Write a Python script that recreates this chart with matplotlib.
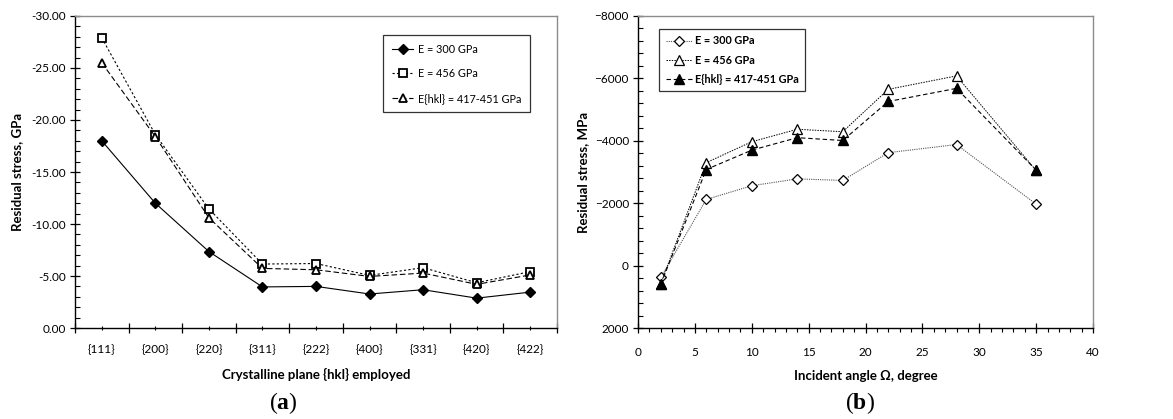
import numpy as np
import matplotlib
matplotlib.use('Agg')
import matplotlib.pyplot as plt
from matplotlib.ticker import MultipleLocator, FixedLocator, NullFormatter, FormatStrFormatter, FixedFormatter

plt.rcParams['font.family'] = ['Lato', 'DejaVu Sans']
plt.rcParams['mathtext.fontset'] = 'custom'
plt.rcParams['mathtext.bf'] = 'Liberation Serif:bold'
plt.rcParams['mathtext.rm'] = 'Liberation Serif'

# (a) residual stress per reflection
planes = ['{111}', '{200}', '{220}', '{311}', '{222}', '{400}', '{331}', '{420}', '{422}']
stress_e300 = [-18.0, -12.0, -7.35, -3.95, -4.0, -3.27, -3.68, -2.87, -3.45]
stress_e456 = [-27.9, -18.6, -11.45, -6.15, -6.2, -5.06, -5.8, -4.35, -5.42]
stress_ehkl = [-25.5, -18.4, -10.6, -5.73, -5.6, -4.96, -5.28, -4.2, -5.1]

# (b) residual stress vs incident angle
omega = [2, 6, 10, 14, 18, 22, 28, 35]
mpa_e300 = [380, -2120, -2560, -2780, -2730, -3620, -3880, -1970]
mpa_e456 = [580, -3300, -3970, -4370, -4290, -5650, -6080, -3050]
mpa_ehkl = [600, -3080, -3700, -4100, -4010, -5260, -5680, -3060]

fig = plt.figure(figsize=(11.73, 4.19), dpi=100)
ax1 = fig.add_axes([75/1173, 1-328/419, (557-75)/1173, (328-16)/419])
ax2 = fig.add_axes([638/1173, 1-328/419, (1093-638)/1173, (328-16)/419])

def frame(ax):
    for s in ['top', 'right']:
        ax.spines[s].set_color('#8c8c8c')
        ax.spines[s].set_linewidth(1.0)
    for s in ['left', 'bottom']:
        ax.spines[s].set_linewidth(1.0)
    ax.tick_params(which='major', direction='inout', length=7, width=0.9, labelsize=8.5, pad=3)
    ax.tick_params(which='minor', direction='in', length=3.5, width=0.8)
    ax.tick_params(top=False, right=False, which='both')

# ---- (a)
x = np.arange(len(planes))
ax1.plot(x, stress_e300, color='black', lw=0.8, ls='-', marker='D', ms=5,
         mfc='black', mec='black', label='E = 300 GPa')
ax1.plot(x, stress_e456, color='black', lw=0.8, ls=(0, (2, 2)), marker='s', ms=5.8,
         mfc='white', mec='black', mew=1.3, label='E = 456 GPa')
ax1.plot(x, stress_ehkl, color='black', lw=0.8, ls=(0, (5, 2.5)), marker='^', ms=6,
         mfc='white', mec='black', mew=1.3, label='E{hkl} = 417-451 GPa')
ax1.set_xlim(-0.5, len(planes) - 0.5)
ax1.set_ylim(0, -30)
ax1.yaxis.set_major_locator(MultipleLocator(5))
ax1.yaxis.set_minor_locator(MultipleLocator(1))
ax1.yaxis.set_major_formatter(FormatStrFormatter('%.2f'))
ax1.xaxis.set_major_locator(FixedLocator(np.arange(-0.5, len(planes), 1.0)))
ax1.xaxis.set_major_formatter(NullFormatter())
ax1.xaxis.set_minor_locator(FixedLocator(x))
ax1.xaxis.set_minor_formatter(FixedFormatter(planes))
frame(ax1)
ax1.tick_params(axis='x', which='minor', direction='inout', length=3, labelsize=8.5, pad=10)
ax1.set_xlabel('Crystalline plane {hkl} employed', fontsize=9.5, fontweight='bold', labelpad=9)
ax1.set_ylabel('Residual stress, GPa', fontsize=9.5, fontweight='bold', labelpad=6)
leg1 = ax1.legend(loc='upper left', bbox_to_anchor=(308/482, 1-19/312), fontsize=7.8,
                  frameon=True, fancybox=False, edgecolor='black', borderpad=0.8,
                  labelspacing=1.25, handlelength=2.0, handletextpad=0.4, borderaxespad=0.0)
leg1.get_frame().set_linewidth(0.9)

# ---- (b)
ax2.plot(omega, mpa_e300, color='#555555', lw=0.8, ls=(0, (1, 1)), marker='D', ms=5,
         mfc='white', mec='black', mew=0.9, label='E = 300 GPa')
ax2.plot(omega, mpa_e456, color='black', lw=0.7, ls=(0, (1.5, 1.2)), marker='^', ms=6.5,
         mfc='white', mec='black', mew=0.9, label='E = 456 GPa')
ax2.plot(omega, mpa_ehkl, color='black', lw=0.8, ls=(0, (4, 2.5)), marker='^', ms=6.5,
         mfc='black', mec='black', label='E{hkl} = 417-451 GPa')
ax2.set_xlim(0, 40)
ax2.set_ylim(2000, -8000)
ax2.xaxis.set_major_locator(MultipleLocator(5))
ax2.xaxis.set_minor_locator(MultipleLocator(1))
ax2.yaxis.set_major_locator(MultipleLocator(2000))
ax2.yaxis.set_minor_locator(MultipleLocator(400))
frame(ax2)
ax2.tick_params(axis='x', which='minor', direction='out', length=3)
ax2.tick_params(axis='x', which='major', pad=10)
ax2.set_xlabel('Incident angle Ω, degree', fontsize=9.5, fontweight='bold', labelpad=9)
ax2.set_ylabel('Residual stress, MPa', fontsize=9.5, fontweight='bold', labelpad=4)
leg2 = ax2.legend(loc='upper left', bbox_to_anchor=(21/455, 1-13/312),
                  prop={'size': 7.8, 'weight': 'bold'},
                  frameon=True, fancybox=False, edgecolor='black', borderpad=0.6,
                  labelspacing=0.75, handlelength=2.4, handletextpad=0.3, borderaxespad=0.0)
leg2.get_frame().set_linewidth(0.9)

# panel tags
fig.text(283/1173, 1-403/419, '(' + r'$\mathbf{a}$' + ')', family='Liberation Serif',
         fontsize=17, ha='center', va='center')
fig.text(860/1173, 1-403/419, '(' + r'$\mathbf{b}$' + ')', family='Liberation Serif',
         fontsize=17, ha='center', va='center')

fig.savefig('out.png', dpi=100)
